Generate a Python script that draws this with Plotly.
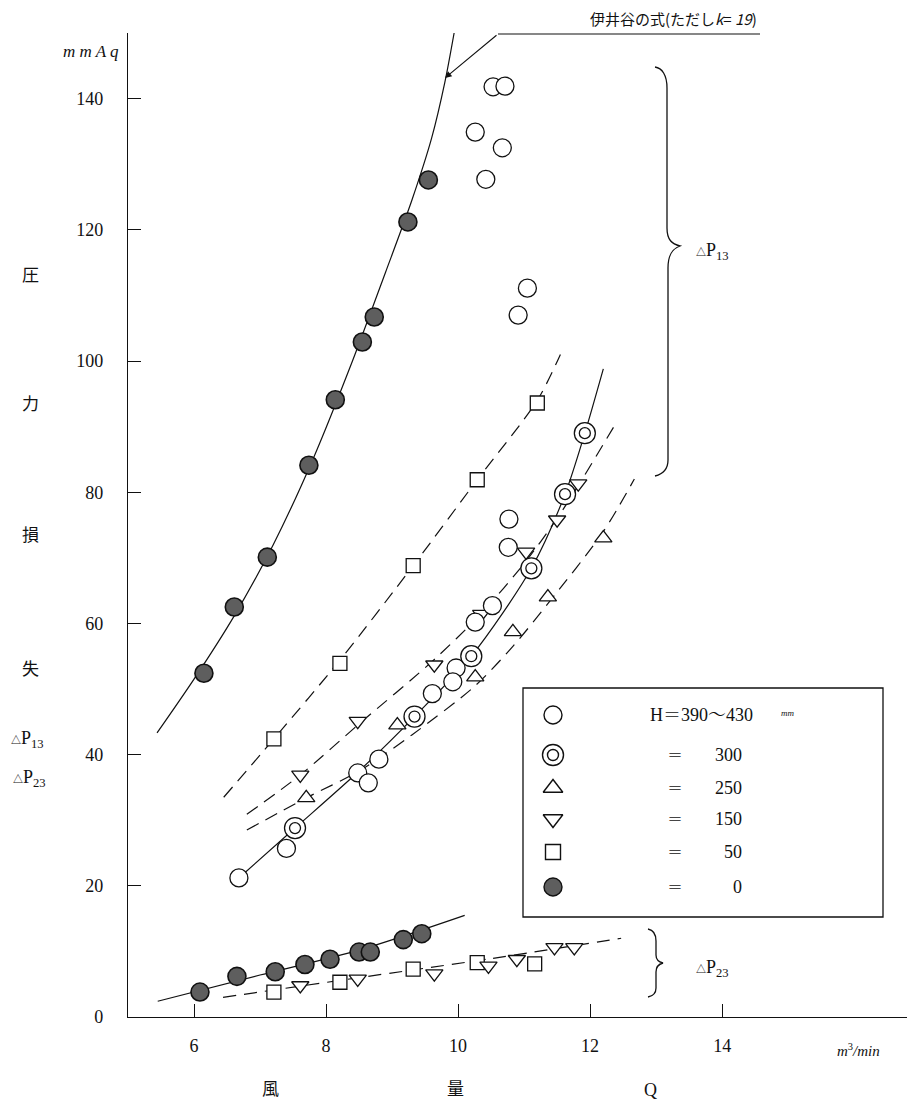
import plotly.graph_objects as go

# ---------------- data ----------------
# ΔP13 group
q_h400 = [10.53, 10.71, 10.26, 10.67, 10.42, 11.05, 10.91, 10.77, 10.76, 10.52, 10.26, 9.97, 9.92, 9.61, 8.80, 8.48, 8.64, 7.40, 6.68]
p_h400 = [141.8, 141.9, 134.9, 132.5, 127.7, 111.1, 107.0, 75.9, 71.6, 62.7, 60.2, 53.2, 51.1, 49.3, 39.3, 37.2, 35.7, 25.7, 21.2]
q_h300 = [7.53, 9.34, 10.20, 11.11, 11.62, 11.92]
p_h300 = [28.8, 45.8, 55.0, 68.4, 79.7, 89.0]
q_h250 = [7.70, 9.08, 10.26, 10.83, 11.36, 12.20]
p_h250 = [33.4, 44.5, 51.8, 58.7, 64.0, 73.0]
q_h150 = [7.61, 8.48, 9.64, 10.35, 11.03, 11.50, 11.82]
p_h150 = [36.9, 45.1, 53.7, 61.4, 70.9, 75.8, 81.3]
q_h50 = [7.21, 8.21, 9.32, 10.29, 11.20]
p_h50 = [42.4, 53.9, 68.8, 81.9, 93.6]
q_h0 = [6.15, 6.61, 7.11, 7.74, 8.14, 8.55, 8.73, 9.24, 9.55]
p_h0 = [52.4, 62.5, 70.1, 84.1, 94.1, 102.9, 106.7, 121.2, 127.6]

# ΔP23 group
q23_h0 = [6.09, 6.65, 7.23, 7.68, 8.06, 8.50, 8.67, 9.17, 9.45]
p23_h0 = [3.8, 6.2, 6.9, 8.0, 8.8, 9.9, 9.9, 11.8, 12.7]
q23_h50 = [7.21, 8.21, 9.32, 10.29, 11.16]
p23_h50 = [3.8, 5.3, 7.3, 8.3, 8.1]
q23_h150 = [7.61, 8.48, 9.64, 10.46, 10.89, 11.46, 11.76]
p23_h150 = [4.8, 5.8, 6.6, 7.8, 8.8, 10.6, 10.6]

# drawn curves
curve_formula_q = [5.44, 6.0, 6.6, 7.2, 7.8, 8.4, 8.9, 9.3, 9.6, 9.8, 9.94]
curve_formula_p = [43.3, 51.5, 61.0, 72.0, 85.0, 100.0, 113.5, 124.5, 134.0, 142.5, 150.0]
curve_h50_q = [6.45, 7.21, 8.21, 9.32, 10.29, 11.20, 11.55]
curve_h50_p = [33.5, 42.4, 54.4, 68.8, 81.9, 94.0, 101.0]
curve_h300_q = [6.68, 7.53, 8.50, 9.34, 10.20, 11.11, 11.62, 11.92, 12.20]
curve_h300_p = [21.2, 28.8, 37.5, 45.8, 55.0, 68.4, 79.7, 89.0, 98.8]
curve_h150_q = [6.80, 7.61, 8.48, 9.64, 10.35, 11.03, 11.50, 11.82, 12.39]
curve_h150_p = [30.9, 36.9, 44.5, 54.5, 61.5, 69.5, 76.0, 81.0, 90.5]
curve_h250_q = [6.80, 7.70, 8.50, 9.30, 10.26, 10.83, 11.36, 12.20, 12.67]
curve_h250_p = [28.5, 33.4, 37.5, 43.0, 50.5, 56.5, 63.0, 74.0, 82.0]
curve23_solid_q = [5.45, 7.0, 8.5, 10.1]
curve23_solid_p = [2.4, 6.4, 10.2, 15.5]
curve23_dash_q = [6.44, 8.5, 10.5, 12.47]
curve23_dash_p = [3.0, 6.0, 8.9, 12.0]

x_ticks = [6, 8, 10, 12, 14]
y_ticks = [0, 20, 40, 60, 80, 100, 120, 140]

legend_labels = ["H＝390〜430", "300", "250", "150", "50", "0"]

# ---------------- styling ----------------
SERIF = "Liberation Serif, Noto Serif CJK JP, Noto Sans CJK JP"
JP = "Noto Sans CJK JP, Liberation Serif"
BLACK = "#111111"
FILL = "#5e5e5e"
DASH = "13px,8px"

# page has an 8px body margin: build the figure 8px smaller and shift
OFF = 8
W, H = 924 - OFF, 1105 - OFF
L, R, T, B = 128, 907, 33, 1017  # plot area in reference-page pixels


def px(x):
    return (x - L) / (R - L)


def py(y):
    return (B - y) / (B - T)


fig = go.Figure()


def line(q, p, dash=None, width=1.2):
    fig.add_trace(go.Scatter(x=q, y=p, mode="lines", showlegend=False, hoverinfo="skip",
                             line=dict(color=BLACK, width=width, dash=dash, shape="spline", smoothing=0.8)))


def marks(q, p, symbol, size, fill="white", lw=1.3):
    fig.add_trace(go.Scatter(x=q, y=p, mode="markers", showlegend=False,
                             marker=dict(symbol=symbol, size=size, color=fill,
                                         line=dict(color=BLACK, width=lw))))


# curves
line(curve_formula_q, curve_formula_p)
line(curve_h50_q, curve_h50_p, DASH)
line(curve_h300_q, curve_h300_p)
line(curve_h150_q, curve_h150_p, DASH)
line(curve_h250_q, curve_h250_p, DASH)
line(curve23_solid_q, curve23_solid_p)
line(curve23_dash_q, curve23_dash_p, DASH)

# markers
marks(q_h250, p_h250, "triangle-up", 15)
marks(q_h150, p_h150, "triangle-down", 15)
marks(q_h400, p_h400, "circle", 18)
marks(q_h300, p_h300, "circle", 21)
marks(q_h300, p_h300, "circle", 11)
marks(q_h50, p_h50, "square", 14)
marks(q_h0, p_h0, "circle", 18, FILL, 1.6)
marks(q23_h0, p23_h0, "circle", 18, FILL, 1.6)
marks(q23_h50, p23_h50, "square", 14)
marks(q23_h150, p23_h150, "triangle-down", 15)

# legend (hand-built box)
leg_rows = [715, 755, 788, 819, 852, 887]
leg_syms = [("circle", 18, "white"), ("circle", 21, "white"), ("triangle-up", 17, "white"),
            ("triangle-down", 17, "white"), ("square", 15, "white"), ("circle", 18, FILL)]
for (sym, sz, fc), ry in zip(leg_syms, leg_rows):
    fig.add_trace(go.Scatter(x=[553], y=[ry], xaxis="x2", yaxis="y2", mode="markers", showlegend=False,
                             marker=dict(symbol=sym, size=sz, color=fc, line=dict(color=BLACK, width=1.4))))
fig.add_trace(go.Scatter(x=[553], y=[leg_rows[1]], xaxis="x2", yaxis="y2", mode="markers", showlegend=False,
                         marker=dict(symbol="circle", size=11, color="white", line=dict(color=BLACK, width=1.4))))

shapes = []
shapes.append(dict(type="rect", xref="paper", yref="paper", x0=px(523), x1=px(883), y0=py(917), y1=py(688),
                   line=dict(color=BLACK, width=1.3), fillcolor="rgba(0,0,0,0)"))

ann = []


def text(x, y, s, size=17, xanchor="center", family=SERIF, yanchor="middle"):
    ann.append(dict(x=px(x), y=py(y), xref="paper", yref="paper", text=s, showarrow=False,
                    xanchor=xanchor, yanchor=yanchor, font=dict(family=family, size=size, color=BLACK)))


text(648, 715, "H＝390〜430", 18, "left")
text(779, 713, "<i>mm</i>", 9, "left")
for lab, ry in zip(legend_labels[1:], leg_rows[1:]):
    text(675, ry, "＝", 16)
    text(744, ry, lab, 18, "right")

# braces
def brace_path(pts):
    s = "M {:.5f},{:.5f}".format(px(pts[0][0]), py(pts[0][1]))
    i = 1
    while i < len(pts):
        kind = pts[i]
        if kind == "L":
            s += " L {:.5f},{:.5f}".format(px(pts[i + 1][0]), py(pts[i + 1][1]))
            i += 2
        else:
            a, b, c = pts[i + 1], pts[i + 2], pts[i + 3]
            s += " C {:.5f},{:.5f} {:.5f},{:.5f} {:.5f},{:.5f}".format(px(a[0]), py(a[1]), px(b[0]), py(b[1]), px(c[0]), py(c[1]))
            i += 4
    return s


b13 = [(655, 67), "C", (662, 68), (667, 75), (667, 88), "L", (667, 228), "C", (667, 240), (672, 244), (680, 246),
       "C", (672, 249), (668, 255), (668, 268), "L", (668, 460), "C", (668, 470), (663, 474), (655, 476)]
b23 = [(648, 929), "C", (653, 930), (656, 934), (656, 941), "L", (656, 955), "C", (656, 960), (659, 962), (663, 963),
       "C", (659, 964), (656, 967), (656, 972), "L", (656, 988), "C", (656, 993), (653, 996), (648, 997)]
for b in (b13, b23):
    shapes.append(dict(type="path", xref="paper", yref="paper", path=brace_path(b),
                       line=dict(color=BLACK, width=1.3)))

dp13 = "<span style='font-size:10px'>△</span>P<sub>13</sub>"
dp23 = "<span style='font-size:10px'>△</span>P<sub>23</sub>"
text(694, 252, dp13, 18, "left")
text(694, 968, dp23, 18, "left")

# formula annotation with arrow
shapes.append(dict(type="line", xref="paper", yref="paper", x0=px(498), x1=px(760), y0=py(34), y1=py(34),
                   line=dict(color=BLACK, width=1.2)))
ann.append(dict(x=px(445), y=py(78), xref="paper", yref="paper", ax=498 - 445, ay=34 - 78,
                showarrow=True, arrowhead=2, arrowsize=1.2, arrowwidth=1.1, arrowcolor=BLACK, text=""))
text(588, 18, "伊井谷の式(ただし<i>k</i>= <i>19</i>)", 15, "left", JP)

# axis unit labels and titles
text(121, 52, "<i>m m A q</i>", 17, "right")
text(835, 1050, "<i>m</i><sup>3</sup><i>/min</i>", 15, "left")
for ch, xx in zip(["風", "量"], [270, 455]):
    text(xx, 1087, ch, 17, "center", JP)
text(650, 1090, "Q", 18, "center")
for ch, yy in zip(["圧", "力", "損", "失"], [273, 402, 533, 667]):
    text(30, yy, ch, 17, "center", JP)
text(9, 739, dp13, 18, "left")
text(11, 779, dp23, 18, "left")

fig.update_layout(
    width=W, height=H,
    margin=dict(l=L - OFF, r=W - (R - OFF), t=T - OFF, b=H - (B - OFF)),
    paper_bgcolor="white", plot_bgcolor="white",
    showlegend=False,
    shapes=shapes, annotations=ann,
    xaxis=dict(range=[5, 16.8], tickvals=x_ticks, ticks="inside", ticklen=13, tickwidth=1.3, tickcolor=BLACK,
               showline=True, linecolor=BLACK, linewidth=1.3, showgrid=False, zeroline=False,
               tickfont=dict(family=SERIF, size=18, color=BLACK), ticklabelstandoff=12),
    yaxis=dict(range=[0, 150], tickvals=y_ticks, ticks="inside", ticklen=13, tickwidth=1.3, tickcolor=BLACK,
               showline=True, linecolor=BLACK, linewidth=1.3, showgrid=False, zeroline=False,
               tickfont=dict(family=SERIF, size=18, color=BLACK), ticklabelstandoff=20),
    xaxis2=dict(range=[L, R], overlaying="x", visible=False, anchor="y2"),
    yaxis2=dict(range=[B, T], overlaying="y", visible=False, anchor="x2"),
)

fig.write_html("out.html")
